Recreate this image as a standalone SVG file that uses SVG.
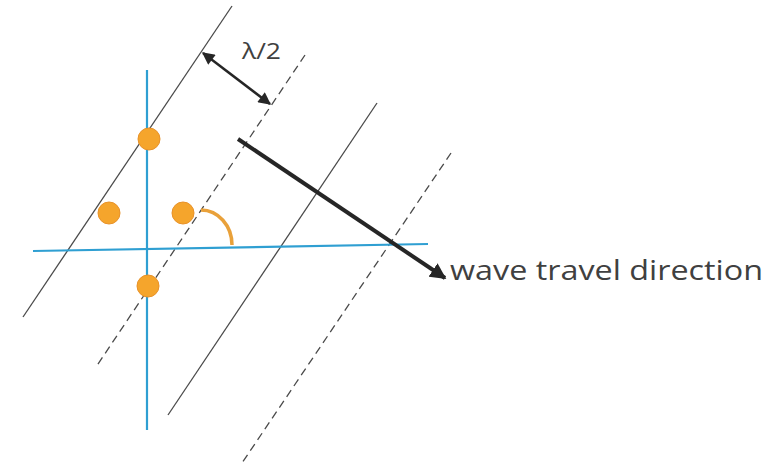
<svg xmlns="http://www.w3.org/2000/svg" width="777" height="468" viewBox="0 0 777 468">
<style>
.wf{stroke:#4a4a4a;stroke-width:1.3;fill:none}
.dash{stroke-dasharray:8 5}
.axis{stroke:#2f9fd2;stroke-width:2.2;fill:none}
.dot{fill:#f5a52c;stroke:#e8922a;stroke-width:1}
.lbl{font-family:"Open Sans","Liberation Sans",sans-serif;fill:#404040}
</style>
<defs>
<marker id="ah" viewBox="0 0 10 10" refX="9" refY="5" markerWidth="5.5" markerHeight="5" orient="auto-start-reverse" markerUnits="strokeWidth">
<path d="M0,0 L10,5 L0,10 z" fill="#262626"/>
</marker>
<marker id="ah2" viewBox="0 0 10 10" refX="9" refY="5" markerWidth="4" markerHeight="4" orient="auto-start-reverse" markerUnits="strokeWidth">
<path d="M0,0 L10,5 L0,10 z" fill="#262626"/>
</marker>
</defs>
<rect width="777" height="468" fill="#ffffff"/>
<g id="wavefronts">
<line id="wf1" class="wf" x1="232" y1="6" x2="23" y2="317"/>
<line id="wf2" class="wf dash" x1="305" y1="55" x2="96" y2="367"/>
<line id="wf3" class="wf" x1="377" y1="103" x2="168" y2="415"/>
<line id="wf4" class="wf dash" x1="451" y1="153" x2="242" y2="463"/>
</g>
<g id="axes">
<line id="vaxis" class="axis" x1="147" y1="70" x2="147" y2="430"/>
<line id="haxis" class="axis" x1="33" y1="251" x2="428" y2="244"/>
</g>
<g id="angle">
<path d="M201 210 A31 35 0 0 1 232 245" fill="none" stroke="#e9a13a" stroke-width="3.5"/>
</g>
<g id="dots">
<circle class="dot" cx="149" cy="139" r="11"/>
<circle class="dot" cx="109" cy="213" r="11"/>
<circle class="dot" cx="183" cy="213" r="11"/>
<circle class="dot" cx="148" cy="286" r="11"/>
</g>
<g id="connectors">
<line x1="203" y1="53" x2="270" y2="104" stroke="#262626" stroke-width="2.5" marker-start="url(#ah)" marker-end="url(#ah)"/>
<line x1="238" y1="139" x2="445" y2="278" stroke="#262626" stroke-width="4" marker-end="url(#ah2)"/>
</g>
<g id="labels">
<text class="lbl" x="242" y="59" font-size="22" textLength="39" lengthAdjust="spacingAndGlyphs">λ/2</text>
<text class="lbl" x="450" y="280" font-size="27" textLength="313" lengthAdjust="spacingAndGlyphs">wave travel direction</text>
</g>
</svg>
